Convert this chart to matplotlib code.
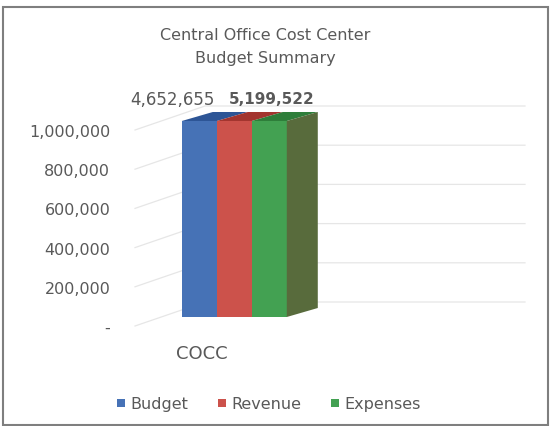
import matplotlib
matplotlib.use("Agg")
import matplotlib.pyplot as plt
from matplotlib.patches import Polygon, Patch, Rectangle
from matplotlib.transforms import ScaledTranslation, IdentityTransform, Bbox, TransformedBbox

# --- data -------------------------------------------------------------
categories = ["COCC"]
series = ["Budget", "Revenue", "Expenses"]
budget = [4652655]
revenue = [5199522]
expenses = [5199522]
tick_values = [0, 200000, 400000, 600000, 800000, 1000000]
tick_labels = ["-", "200,000", "400,000", "600,000", "800,000", "1,000,000"]
axis_max = 1000000

front_colors = ["#4672b6", "#cc524b", "#43a152"]
top_colors = ["#2d5596", "#a3352f", "#2e7e3a"]
side_color = "#586b3c"
text_color = "#595959"
grid_color = "#e6e6e6"

DPI = 100
fig = plt.figure(figsize=(5.5, 4.27), dpi=DPI)
W, H = 550, 427


def px(dx, dy):
    return ScaledTranslation(dx / DPI, dy / DPI, fig.dpi_scale_trans)


# axes placed in pixel terms (y measured from the top)
ax_l, ax_r, ax_t, ax_b = 120, 520, 107, 335
ax = fig.add_axes([ax_l / W, 1 - ax_b / H, (ax_r - ax_l) / W, (ax_b - ax_t) / H])
ax.set_facecolor("none")
for s in ax.spines.values():
    s.set_visible(False)

# 0 sits 17 px above the axes bottom, 196 px per million
scale = 196 / 1e6
ax.set_ylim(-17 / scale, (318 - ax_t) / scale)
ax.set_xlim(-0.2, 0.5)

bw = 0.06125
xs = [-bw, 0.0, bw]
values = [budget[0], revenue[0], expenses[0]]

for x, v, c, name in zip(xs, values, front_colors, series):
    b = ax.bar(x, v, width=bw, color=c, zorder=3, label=name)[0]
    clip = TransformedBbox(Bbox([[x - bw, -1e7], [x + bw, axis_max]]), ax.transData)
    b.set_clip_box(clip)

fig.canvas.draw()
T = ax.transData
ddx, ddy = 31, 9  # depth offset in pixels

# top faces of the clipped bars
for x, v, c in zip(xs, values, top_colors):
    top = min(v, axis_max)
    (x0, y0) = T.transform((x - bw / 2, top))
    (x1, _) = T.transform((x + bw / 2, top))
    poly = Polygon([(x0, y0), (x1, y0), (x1 + ddx, y0 + ddy), (x0 + ddx, y0 + ddy)],
                   closed=True, facecolor=c, edgecolor="none",
                   transform=IdentityTransform(), zorder=4)
    fig.add_artist(poly)

# side face of the last bar
xr = xs[-1] + bw / 2
top = min(values[-1], axis_max)
(sx, sb) = T.transform((xr, 0))
(_, st) = T.transform((xr, top))
side = Polygon([(sx, sb), (sx, st), (sx + ddx, st + ddy), (sx + ddx, sb + ddy)],
               closed=True, facecolor=side_color, edgecolor="none",
               transform=IdentityTransform(), zorder=4)
fig.add_artist(side)

# gridlines: slanted floor segment, then along the back wall
front_x = ax_l + 15
wall_x = ax_l + 85
end_x = ax_l + 405
for v in tick_values:
    (_, yd) = T.transform((0, v))
    yf = yd - 9
    yb = yd + 15
    ax.plot([front_x, wall_x, end_x], [yf, yb, yb], color=grid_color, lw=0.9,
            transform=IdentityTransform(), zorder=1, clip_on=False)

# y ticks, shifted to the front edge
ax.set_yticks(tick_values)
ax.set_yticklabels(tick_labels)
ax.tick_params(axis="y", length=0, pad=7, labelsize=11.5, labelcolor=text_color)
for lab in ax.get_yticklabels():
    lab.set_transform(lab.get_transform() + px(0, -9))

ax.set_xticks([0.0])
ax.set_xticklabels(categories)
ax.tick_params(axis="x", length=0, pad=7, labelsize=13, labelcolor=text_color)
for lab in ax.get_xticklabels():
    lab.set_transform(lab.get_transform() + px(-32, 0))

# value labels
ax.annotate(f"{budget[0]:,}", xy=(xs[0], axis_max), xytext=(-27, 22),
            textcoords="offset pixels", ha="center", va="center",
            fontsize=12, color=text_color, annotation_clip=False)
ax.annotate(f"{expenses[0]:,}", xy=(xs[2], axis_max), xytext=(2, 22),
            textcoords="offset pixels", ha="center", va="center",
            fontsize=11, fontweight="bold", color=text_color, annotation_clip=False)

# title
fig.text(265 / W, 1 - 35 / H, "Central Office Cost Center", ha="center", va="center",
         fontsize=11.5, color=text_color)
fig.text(265 / W, 1 - 58 / H, "Budget Summary", ha="center", va="center",
         fontsize=11.5, color=text_color)

# legend
handles = [Patch(facecolor=c, edgecolor="none", label=n) for c, n in zip(front_colors, series)]
leg = fig.legend(handles=handles, loc="center", bbox_to_anchor=(269 / W, 1 - 405 / H),
                 ncol=3, frameon=False, fontsize=11.5, handlelength=0.45, handleheight=0.45,
                 handletextpad=0.35, columnspacing=1.9)
for t in leg.get_texts():
    t.set_color(text_color)

# outer frame
fig.add_artist(Rectangle((3 / W, 1 - 426 / H), 545 / W, 418 / H, transform=fig.transFigure,
                         fill=False, edgecolor="#7f7f7f", lw=1.5))

fig.savefig("out.png", dpi=DPI)
